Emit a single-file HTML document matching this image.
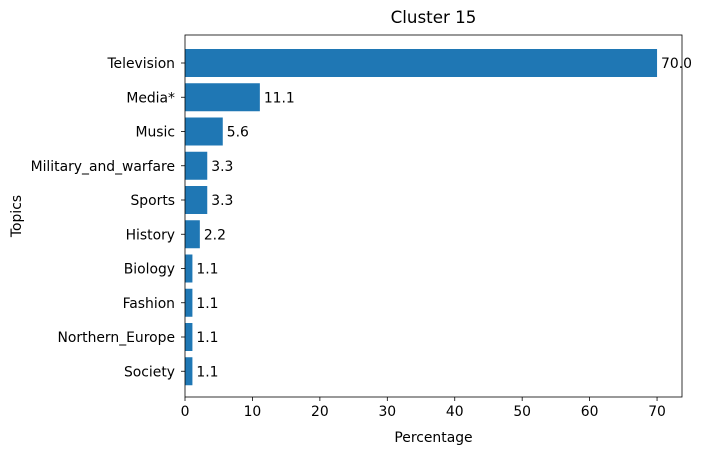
<!DOCTYPE html>
<html><head><meta charset="utf-8">
<style>
html,body{margin:0;padding:0;background:#fff;}
svg{display:block;font-family:"DejaVu Sans","Liberation Sans",sans-serif;}
</style></head>
<body>
<svg id="chart" width="702" height="455"></svg>
<script>
const categories=["Television","Media*","Music","Military_and_warfare","Sports","History","Biology","Fashion","Northern_Europe","Society"];
const values=[70.0,11.1,5.6,3.3,3.3,2.2,1.1,1.1,1.1,1.1];
const labels=["70.0","11.1","5.6","3.3","3.3","2.2","1.1","1.1","1.1","1.1"];
const xTicks=[0,10,20,30,40,50,60,70];
const NS="http://www.w3.org/2000/svg";
const svg=document.getElementById('chart');
const L=185,R=682,T=35,B=397,xmax=73.7;
const xs=v=>L+v/xmax*(R-L);
const step=34.25,y0=63;
const ys=i=>y0+i*step;
const FS=13.9;
function mk(tag,attrs,txt){const e=document.createElementNS(NS,tag);for(const k in attrs)e.setAttribute(k,attrs[k]);if(txt!==undefined)e.textContent=txt;svg.appendChild(e);return e;}
values.forEach((v,i)=>{
 const r=mk('rect',{x:xs(0),y:ys(i)-14,width:xs(v)-xs(0),height:28,fill:'#1f77b4'});
 
 
 const t=mk('text',{x:xs(v)+4,y:ys(i)+5,'font-size':FS,fill:'#000'},labels[i]);
 
 
 const c=mk('text',{x:L-10,y:ys(i)+5,'font-size':FS,'text-anchor':'end',fill:'#000'},categories[i]);
 
 
 mk('line',{x1:L-4,x2:L,y1:ys(i),y2:ys(i),stroke:'#000','stroke-width':0.8});
});
xTicks.forEach(v=>{
 mk('line',{x1:xs(v),x2:xs(v),y1:B,y2:B+4,stroke:'#000','stroke-width':0.8});
 const t=mk('text',{x:xs(v),y:B+19,'font-size':FS,'text-anchor':'middle'},String(v));
 
 
});
const f=mk('rect',{x:L,y:T,width:R-L,height:B-T,fill:'none',stroke:'#000','stroke-width':0.8});


const tt=mk('text',{x:(L+R)/2,y:23,'font-size':16.7,'text-anchor':'middle'},'Cluster 15');


const xl=mk('text',{x:(L+R)/2,y:442,'font-size':FS,'text-anchor':'middle'},'Percentage');


const yl=mk('text',{x:21,y:216,'font-size':FS,'text-anchor':'middle',transform:'rotate(-90 21 216)'},'Topics');


</script>
</body></html>
